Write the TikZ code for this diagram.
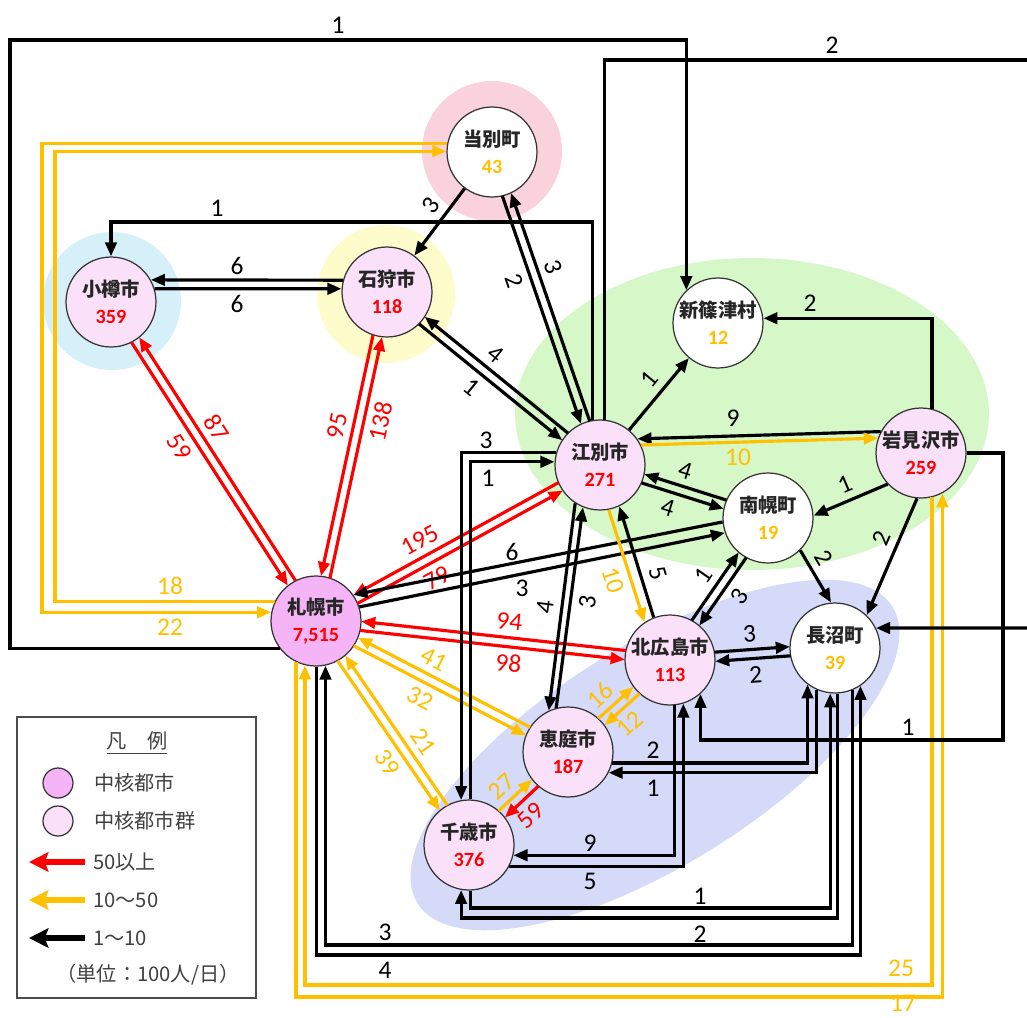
\documentclass[tikz,border=0pt]{standalone}
\usepackage{fontspec}
\setmainfont{Carlito}
\newfontfamily\jp{Noto Sans CJK JP}
\usetikzlibrary{arrows.meta,calc}

\definecolor{hred}{RGB}{255,0,0}
\definecolor{horange}{RGB}{255,192,0}
\definecolor{cityA}{RGB}{245,180,245}
\definecolor{cityB}{RGB}{251,224,250}
\definecolor{haloP}{RGB}{249,210,222}
\definecolor{haloB}{RGB}{214,240,250}
\definecolor{haloY}{RGB}{255,252,204}
\definecolor{areaG}{RGB}{214,247,200}
\definecolor{areaB}{RGB}{213,218,248}

\newcommand\pairgap{2.6pt}
\newcommand\labgap{11.8pt}
\newcommand\townrad{25.6pt}

\tikzset{
  town/.style={circle, draw=black!80, line width=0.7pt, minimum size=1.8cm, inner sep=0pt,
    align=center, text=black!85, font=\fontsize{11}{15.5}\selectfont},
  link/.style={line width=1.8pt, -{Triangle[length=8pt,width=6.5pt]}},
  cut/.style={shorten <=\townrad, shorten >=\townrad},
  lbl/.style={font=\fontsize{14.5}{16}\selectfont, inner sep=0pt},
  leg/.style={font=\jp\fontsize{11.5}{14}\selectfont, text=black!75, inner sep=0pt},
  legarrow/.style={line width=3pt, -{Stealth[length=11pt,width=11pt,inset=2pt]}},
  legdot/.style={circle, draw=black!80, line width=0.7pt, minimum size=0.6cm},
}

\begin{document}
\begin{tikzpicture}[x=0.02cm, y=-0.02cm]
\useasboundingbox (0,0) rectangle (1027,1017);
% areas
\fill[haloP] (492,151) circle (1.4cm);
\fill[haloB] (112,301) circle (1.38cm);
\fill[haloY] (386,294) circle (1.38cm);
\fill[areaG] (752,414) ellipse (4.74cm and 3.12cm);
\fill[areaB, rotate around={32:(655,755)}] (655,755) ellipse (5.6cm and 2.2cm);
\coordinate (offT) at (1030,60);
\coordinate (offR) at (1030,628);

% towns
\foreach \n/\x/\y/\nm/\v/\f/\c in {
  tob/492/152/当別町/43/white/horange,
  ota/111/302/小樽市/359/cityB/hred,
  ish/387/292/石狩市/118/cityB/hred,
  shs/718/323/新篠津村/12/white/horange,
  ebt/600/465/江別市/271/cityB/hred,
  iwa/921/453/岩見沢市/259/cityB/hred,
  nan/768/518/南幌町/19/white/horange,
  sap/316/621/札幌市/{7,515}/cityA/hred,
  kit/670/660/北広島市/113/cityB/hred,
  nag/835/648/長沼町/39/white/horange,
  eni/568/752/恵庭市/187/cityB/hred,
  chi/469/845/千歳市/376/cityB/hred}
  \node[town, fill=\f] (\n) at (\x,\y) {{\jp\bfseries\nm}\\{\fontsize{11.5}{15.5}\selectfont\bfseries\color{\c}\v}};

% two-way flows
\foreach \a/\b/\ca/\cb/\la/\lb/\k/\pa/\pb in {
  ota/sap/hred/hred/59/87/1/.42/.57,
  ish/sap/hred/hred/95/138/1/.42/.62,
  ebt/sap/hred/hred/195/79/1/.60/.39,
  kit/sap/hred/hred/94/98/1/.46/.55,
  eni/sap/horange/horange/41/32/1/.57/.45,
  chi/sap/horange/horange/21/39/1/.41/.58,
  tob/ebt/black/black/2/3/1/.39/.61,
  ebt/ish/black/black/4/1/1/.55/.46,
  nan/ebt/black/black/4/4/1/.53/.44,
  kit/nan/black/black/1/3/-1/.51/.47,
  eni/kit/horange/horange/16/12/-1/.45/.53,
  chi/eni/horange/hred/27/59/-1/.47/.52,
  kit/nag/black/black/3/2/-1/.49/.49}
{
  \draw[link, cut, \ca] ($(\a)!\k*\pairgap!-90:(\b)$) -- ($(\b)!\k*\pairgap!90:(\a)$);
  \draw[link, cut, \cb] ($(\b)!\k*\pairgap!-90:(\a)$) -- ($(\a)!\k*\pairgap!90:(\b)$);
  \path ($(\a)!\k*\labgap!-90:(\b)$) -- ($(\b)!\k*\labgap!90:(\a)$) node[lbl, \ca, sloped, pos=\pa] (\a\b) {\la};
  \path ($(\b)!\k*\labgap!-90:(\a)$) -- ($(\a)!\k*\labgap!90:(\b)$) node[lbl, \cb, sloped, pos=\pb] (\b\a) {\lb};
}

% single and off-centre flows
\draw[link] (ish.165) -- (ota.29);
\draw[link] (ota.17) -- (ish.176);
\draw[link] (iwa.152) -- (ebt.35);
\draw[link, horange] (ebt.26) -- (iwa.161);
\draw[link] (nan.185) -- (sap.35);
\draw[link] (sap.18) -- (nan.199);
\draw[link] (ebt.237) -- (eni.115) node[lbl, sloped, above=4pt, pos=.51] (ebteni) {4};
\draw[link] (eni.105) -- (ebt.248) node[lbl, sloped, below=4pt, pos=.54] (eniebt) {3};
\draw[link, horange] (ebt.281) -- (kit.124) node[lbl, sloped, below=4pt, pos=.58] (ebtkit) {10};
\draw[link] (kit.111) -- (ebt.295) node[lbl, sloped, above=4pt, pos=.35] (kitebt) {5};
\draw[link] (tob) -- (ish) node[lbl, sloped, above=4pt, pos=.4] (tobish) {3};
\draw[link] (ebt) -- (shs) node[lbl, sloped, above=4pt, pos=.55] (ebtshs) {1};
\draw[link] (iwa.223) -- (nan.3) node[lbl, sloped, above=4pt, pos=.49] (iwanan) {1};
\draw[link] (iwa.265) -- (nag.46) node[lbl, sloped, above=4pt, pos=.4] (iwanag) {2};
\draw[link] (nan.315) -- (nag.95) node[lbl, sloped, above=4pt, pos=.3] (nannag) {2};

% routed flows
\draw[link, horange] (iwa.284) -- (iwa.284 |- 0,985) -| (sap.256);
\draw[link, horange] (sap.244) -- (sap.244 |- 0,997) -| (iwa.298);
\draw[link, horange] (tob.169) -| (42,400) |- (sap.169);
\draw[link, horange] (sap.155) -| (55,400) |- (tob.179);
\draw[link] (sap.217) -| (10,40) -| (shs.134);
\draw[link, -] (ebt.84) |- (offT);
\draw[link] (ebt.99) -- (ebt.99 |- 0,222) -| (ota.north);
\draw[link] (iwa.76) |- (shs.6);
\draw[link] (iwa.east) -| (1003,740) -| (kit.312);
\draw[link] (offR) -- (nag.26);
\draw[link] (ebt.164) -| (chi.100);
\draw[link] (chi.88) |- (ebt.176);
\draw[link] (kit.276) |- (chi.347);
\draw[link] (chi.332) -| (kit.287);
\draw[link] (eni.346) -| (nag.233);
\draw[link] (nag.246) |- (eni.333);
\draw[link] (chi.272) -- (chi.272 |- 0,908) -| (nag.264);
\draw[link] (nag.273) -- (nag.273 |- 0,918) -| (chi.260);
\draw[link] (nag.292) -- (nag.292 |- 0,945) -| (sap.282);
\draw[link] (sap.271) -- (sap.271 |- 0,955) -| (nag.304);

\foreach \n/\x/\y/\t/\c in {
  l-sapshs/338/25/1/black, l-ebtoff/832/45/2/black, l-ebtota/217/208/1/black,
  l-iwashs/810/303/2/black, l-iwakit/908/727/1/black,
  l-iwaebt/733/418/9/black, l-ebtiwa/738/457/10/horange,
  l-ishota/237/266/6/black, l-otaish/237/304/6/black,
  l-nansap/512/552/6/black, l-sapnan/522/588/3/black,
  l-ebtchi/486/440/3/black, l-chiebt/488/478/1/black,
  l-kitchi/590/843/9/black, l-chikit/590/881/5/black,
  l-eninag/653/750/2/black, l-nageni/653/788/1/black,
  l-chinag/700/896/1/black, l-nagchi/700/934/2/black,
  l-nagsap/385/932/3/black, l-sapnag/385/970/4/black,
  l-iwasap/901/968/25/horange, l-sapiwa/903/1003/17/horange,
  l-tobsap/170/627/22/horange, l-saptob/170/586/18/horange}
  \node[lbl, \c] (\n) at (\x,\y) {\t};

% legend
\draw[black!70, line width=0.6pt] (17,717) rectangle (256,998);
\node[leg] (legT) at (137,743) {\underline{凡　例}};
\node[legdot, fill=cityA] (legA) at (58,783) {};
\node[leg, anchor=west] (legAt) at (94,783) {中核都市};
\node[legdot, fill=cityB] (legB) at (58,821) {};
\node[leg, anchor=west] (legBt) at (94,821) {中核都市群};
\node[leg, anchor=west] (legR) at (93,862) {50以上};
\node[leg, anchor=west] (legO) at (93,900) {10～50};
\node[leg, anchor=west] (legK) at (93,938) {1～10};
\node[leg] (legU) at (148,975) {（単位：100人/日）};
\draw[legarrow, hred] (85,862) -- (29,862);
\draw[legarrow, horange] (85,900) -- (29,900);
\draw[legarrow, black] (85,938) -- (29,938);
\end{tikzpicture}
\end{document}
